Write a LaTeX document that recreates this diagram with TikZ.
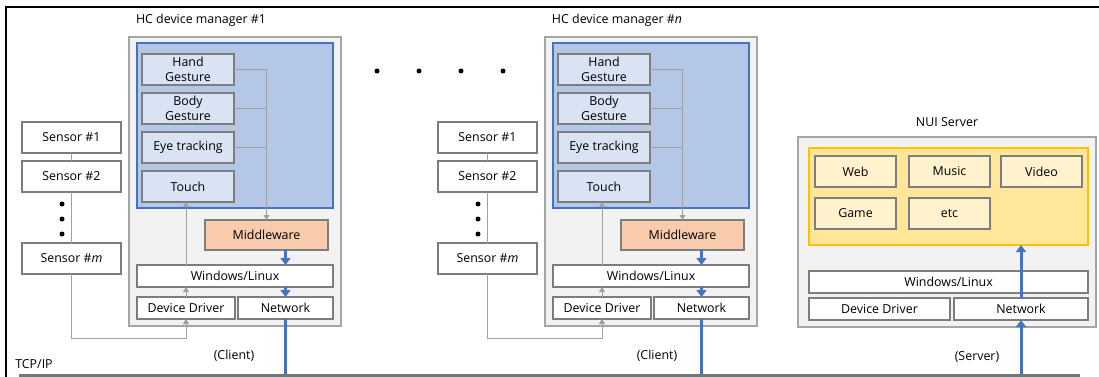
\documentclass[tikz,border=0pt]{standalone}
\usepackage{fontspec}
\setmainfont{Open Sans}
\usetikzlibrary{arrows.meta, positioning}
\definecolor{panelgray}{RGB}{242,242,242}
\definecolor{framegray}{RGB}{165,165,165}
\definecolor{boxgray}{RGB}{125,125,125}
\definecolor{linegray}{RGB}{160,160,160}
\definecolor{busgray}{RGB}{118,118,118}
\definecolor{appblue}{RGB}{180,199,231}
\definecolor{edgeblue}{RGB}{68,114,196}
\definecolor{modblue}{RGB}{218,227,243}
\definecolor{midorange}{RGB}{248,203,173}
\definecolor{appyellow}{RGB}{255,230,153}
\definecolor{edgeyellow}{RGB}{255,192,0}
\definecolor{modyellow}{RGB}{255,242,204}
\tikzstyle{manager} = [rectangle, anchor=north west, inner sep=0pt, outer sep=0pt, draw=framegray, line width=1.5pt, fill=panelgray]
\tikzstyle{blue_container} = [rectangle, anchor=north west, inner sep=0pt, outer sep=0pt, draw=edgeblue, line width=1.2pt, fill=appblue]
\tikzstyle{yellow_container} = [rectangle, anchor=north west, inner sep=0pt, outer sep=0pt, draw=edgeyellow, line width=1.2pt, fill=appyellow]
\tikzstyle{module} = [rectangle, anchor=north west, inner sep=0pt, outer sep=0pt, align=center, minimum width=92pt, minimum height=31pt, draw=boxgray, line width=1.3pt, fill=modblue]
\tikzstyle{service} = [rectangle, anchor=north west, inner sep=0pt, outer sep=0pt, minimum width=81pt, minimum height=31pt, draw=boxgray, line width=1.3pt, fill=modyellow]
\tikzstyle{middleware} = [rectangle, anchor=north west, inner sep=0pt, outer sep=0pt, minimum width=123pt, minimum height=30pt, draw=boxgray, line width=1.3pt, fill=midorange]
\tikzstyle{layer} = [rectangle, anchor=north west, inner sep=0pt, outer sep=0pt, minimum height=22pt, draw=boxgray, line width=1.3pt, fill=white]
\tikzstyle{sensor} = [rectangle, anchor=north west, inner sep=0pt, outer sep=0pt, minimum width=99pt, minimum height=31pt, draw=boxgray, line width=1.3pt, fill=white]
\tikzstyle{dot} = [circle, inner sep=0pt, minimum size=5pt, fill=black]
\tikzstyle{flow} = [draw=linegray, line width=1pt]
\tikzstyle{flow_arrow} = [flow, -{Triangle[width=6pt,length=5pt]}]
\tikzstyle{blue_line} = [draw=edgeblue, line width=3pt]
\tikzstyle{blue_arrow} = [blue_line, -{Triangle[width=10pt,length=7pt]}]
\tikzstyle{bus} = [draw=busgray, line width=4pt]

\begin{document}
\begin{tikzpicture}[x=1pt, y=-1pt, font=\fontsize{12.4}{15.5}\selectfont]
    \useasboundingbox (0,0) rectangle (1099,377);
    \draw [line width=1.5pt] (6,377) |- (1099,7);
    \coordinate (bus_left) at (19,376);
    \coordinate (bus_right) at (1080,376);

    % HC device manager #1
    \node (title_1) at (201,20) {HC device manager \#1};
    \node (manager_1) [manager, minimum width=212pt, minimum height=289pt] at (129,37) {};
    \node (gestures_1) [blue_container, minimum width=196pt, minimum height=165pt] at (137,43) {};
    \node (hand_gesture_1) [module] at (142,54) {Hand\\Gesture};
    \node (body_gesture_1) [module, below=8pt of hand_gesture_1] {Body\\Gesture};
    \node (eye_tracking_1) [module, below=8pt of body_gesture_1] {Eye tracking};
    \node (touch_1) [module, below=8pt of eye_tracking_1] {Touch};
    \node (middleware_1) [middleware] at (205,220) {Middleware};
    \node (os_1) [layer, minimum width=196pt] at (137,265) {Windows/Linux};
    \node (device_driver_1) [layer, minimum width=98pt] at (137,297) {Device Driver};
    \node (network_1) [layer, minimum width=95pt, right=3pt of device_driver_1] {Network};
    \node (sensor1_1) [sensor] at (22,122) {Sensor \#1};
    \node (sensor2_1) [sensor, below=8pt of sensor1_1] {Sensor \#2};
    \node (sensorm_1) [sensor] at (22,243) {Sensor \#\textit{m}};
    \node (dot1_1) [dot] at (62,204) {};
    \node (dot2_1) [dot] at (62,219) {};
    \node (dot3_1) [dot] at (62,234) {};
    \node (client_1) at (234,356) {(Client)};

    \draw [flow_arrow] (hand_gesture_1.east) -| (middleware_1.north);
    \draw [flow] (body_gesture_1.east) -- (body_gesture_1.east -| middleware_1.north);
    \draw [flow] (eye_tracking_1.east) -- (eye_tracking_1.east -| middleware_1.north);
    \draw [flow_arrow] (device_driver_1.north) -- (device_driver_1.north |- os_1.south);
    \draw [flow_arrow] (os_1.north -| device_driver_1.north) -- (touch_1.south -| device_driver_1.north);
    \draw [flow] (sensor1_1) -- (sensor2_1);
    \draw [flow] (sensor2_1) -- (sensorm_1);
    \draw [flow_arrow] (sensorm_1.south) -- ++(0,64) -| (device_driver_1.south);
    \draw [blue_arrow] (middleware_1.south -| network_1.north) -- (os_1.north -| network_1.north);
    \draw [blue_arrow] (os_1.south -| network_1.north) -- (network_1.north);
    \draw [blue_line] (network_1.south) -- (network_1.south |- bus_left);

    \node (gap_dot1) [dot] at (377,71) {};
    \node (gap_dot2) [dot] at (419,71) {};
    \node (gap_dot3) [dot] at (461,71) {};
    \node (gap_dot4) [dot] at (503,71) {};

    % HC device manager #n
    \begin{scope}[xshift=416pt]
    \node (title_n) at (201,20) {HC device manager \#\textit{n}};
    \node (manager_n) [manager, minimum width=212pt, minimum height=289pt] at (129,37) {};
    \node (gestures_n) [blue_container, minimum width=196pt, minimum height=165pt] at (137,43) {};
    \node (hand_gesture_n) [module] at (142,54) {Hand\\Gesture};
    \node (body_gesture_n) [module, below=8pt of hand_gesture_n] {Body\\Gesture};
    \node (eye_tracking_n) [module, below=8pt of body_gesture_n] {Eye tracking};
    \node (touch_n) [module, below=8pt of eye_tracking_n] {Touch};
    \node (middleware_n) [middleware] at (205,220) {Middleware};
    \node (os_n) [layer, minimum width=196pt] at (137,265) {Windows/Linux};
    \node (device_driver_n) [layer, minimum width=98pt] at (137,297) {Device Driver};
    \node (network_n) [layer, minimum width=95pt, right=3pt of device_driver_n] {Network};
    \node (sensor1_n) [sensor] at (22,122) {Sensor \#1};
    \node (sensor2_n) [sensor, below=8pt of sensor1_n] {Sensor \#2};
    \node (sensorm_n) [sensor] at (22,243) {Sensor \#\textit{m}};
    \node (dot1_n) [dot] at (62,204) {};
    \node (dot2_n) [dot] at (62,219) {};
    \node (dot3_n) [dot] at (62,234) {};
    \node (client_n) at (241,356) {(Client)};
    \end{scope}

    \draw [flow_arrow] (hand_gesture_n.east) -| (middleware_n.north);
    \draw [flow] (body_gesture_n.east) -- (body_gesture_n.east -| middleware_n.north);
    \draw [flow] (eye_tracking_n.east) -- (eye_tracking_n.east -| middleware_n.north);
    \draw [flow_arrow] (device_driver_n.north) -- (device_driver_n.north |- os_n.south);
    \draw [flow_arrow] (os_n.north -| device_driver_n.north) -- (touch_n.south -| device_driver_n.north);
    \draw [flow] (sensor1_n) -- (sensor2_n);
    \draw [flow] (sensor2_n) -- (sensorm_n);
    \draw [flow_arrow] (sensorm_n.south) -- ++(0,64) -| (device_driver_n.south);
    \draw [blue_arrow] (middleware_n.south -| network_n.north) -- (os_n.north -| network_n.north);
    \draw [blue_arrow] (os_n.south -| network_n.north) -- (network_n.north);
    \draw [blue_line] (network_n.south) -- (network_n.south |- bus_left);

    % NUI server
    \node (title_server) at (947,122) {NUI Server};
    \node (nui_server) [manager, minimum width=298pt, minimum height=190pt] at (798,137) {};
    \node (services) [yellow_container, minimum width=279pt, minimum height=97pt] at (809,148) {};
    \node (web) [service] at (815,156) {Web};
    \node (music) [service, right=13pt of web] {Music};
    \node (video) [service, right=11pt of music] {Video};
    \node (game) [service, below=11pt of web] {Game};
    \node (etc) [service, below=11pt of music] {etc};
    \node (os_server) [layer, minimum width=279pt] at (809,271) {Windows/Linux};
    \node (device_driver_server) [layer, minimum width=141pt] at (809,298) {Device Driver};
    \node (network_server) [layer, minimum width=134pt, right=4pt of device_driver_server] {Network};
    \node (server_label) at (977,357) {(Server)};

    \draw [blue_arrow] (network_server.north) -- (network_server.north |- services.south);
    \draw [blue_arrow] (network_server.south |- bus_left) -- (network_server.south);

    % TCP/IP
    \node (tcp_ip) at (34,364) {TCP/IP};
    \draw [bus] (bus_left) -- (bus_right);
\end{tikzpicture}
\end{document}
